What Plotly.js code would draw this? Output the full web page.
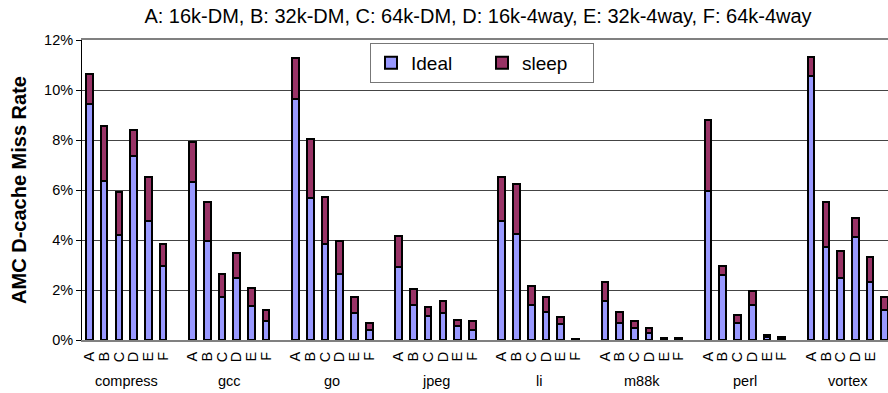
<!DOCTYPE html>
<html>
<head>
<meta charset="utf-8">
<script src="https://cdn.plot.ly/plotly-3.0.1.min.js"></script>
<style>
  html, body { margin: 0; padding: 0; background: #fff; }
  #chart { width: 888px; height: 393px; }
</style>
</head>
<body>
<div id="chart"></div>
<script>
// Benchmarks and cache configurations
const suites = ['compress', 'gcc', 'go', 'jpeg', 'li', 'm88k', 'perl', 'vortex'];
const configs = ['A', 'B', 'C', 'D', 'E', 'F'];
const chartTitle = 'A: 16k-DM, B: 32k-DM, C: 64k-DM, D: 16k-4way, E: 32k-4way, F: 64k-4way';

// Miss rate (%) of the ideal scheme, per suite, configs A..F
const idealCompress = [9.44, 6.37, 4.20, 7.36, 4.77, 2.96];
const idealGcc      = [6.33, 3.97, 1.73, 2.47, 1.36, 0.76];
const idealGo       = [9.64, 5.67, 3.83, 2.63, 1.09, 0.40];
const idealJpeg     = [2.93, 1.41, 0.97, 1.09, 0.55, 0.42];
const idealLi       = [4.76, 4.24, 1.40, 1.12, 0.63, 0.02];
const idealM88k     = [1.57, 0.70, 0.47, 0.27, 0.06, 0.05];
const idealPerl     = [5.96, 2.60, 0.68, 1.40, 0.12, 0.08];
const idealVortex   = [10.58, 3.72, 2.47, 4.12, 2.33, 1.21];

// Extra miss rate (%) added by sleep, stacked on top of ideal
const sleepCompress = [1.20, 2.19, 1.73, 1.04, 1.76, 0.87];
const sleepGcc      = [1.60, 1.56, 0.91, 1.02, 0.73, 0.44];
const sleepGo       = [1.66, 2.37, 1.90, 1.33, 0.62, 0.27];
const sleepJpeg     = [1.23, 0.64, 0.35, 0.48, 0.26, 0.33];
const sleepLi       = [1.77, 2.00, 0.77, 0.59, 0.28, 0.02];
const sleepM88k     = [0.76, 0.41, 0.29, 0.22, 0.04, 0.03];
const sleepPerl     = [2.84, 0.37, 0.31, 0.57, 0.07, 0.05];
const sleepVortex   = [0.75, 1.81, 1.09, 0.77, 1.00, 0.50];

const idealBySuite = [idealCompress, idealGcc, idealGo, idealJpeg, idealLi, idealM88k, idealPerl, idealVortex];
const sleepBySuite = [sleepCompress, sleepGcc, sleepGo, sleepJpeg, sleepLi, sleepM88k, sleepPerl, sleepVortex];

// Each suite takes 6 bar slots plus one empty slot as a separator
const slotsPerSuite = configs.length + 1;
const xPos = [], tickText = [], idealY = [], sleepY = [];
suites.forEach((s, g) => {
  configs.forEach((c, i) => {
    xPos.push(g * slotsPerSuite + i);
    tickText.push(c);
    idealY.push(idealBySuite[g][i]);
    sleepY.push(sleepBySuite[g][i]);
  });
});

const FONT = '"Liberation Sans", Arial, sans-serif';
const barLine = { color: '#000000', width: 2 };

const traces = [
  { type: 'bar', name: 'Ideal', x: xPos, y: idealY, width: 0.45,
    marker: { color: '#9999FF', line: barLine } },
  { type: 'bar', name: 'sleep', x: xPos, y: sleepY, width: 0.45,
    marker: { color: '#993366', line: barLine } }
];

const suiteLabels = suites.map((s, g) => ({
  text: s, x: g * slotsPerSuite + (configs.length - 1) / 2, xref: 'x',
  y: -0.137, yref: 'paper', yanchor: 'middle', xanchor: 'center',
  showarrow: false, font: { family: FONT, size: 14.5, color: '#000' }
}));

const layout = {
  width: 888, height: 393,
  margin: { l: 82, r: 0, t: 40, b: 53 },
  paper_bgcolor: '#ffffff', plot_bgcolor: '#ffffff',
  barmode: 'stack',
  font: { family: FONT, color: '#000' },
  title: {
    text: chartTitle, font: { family: FONT, size: 20, color: '#000' },
    x: 478 / 888, xref: 'container', xanchor: 'center',
    y: 1 - 16 / 393, yref: 'container', yanchor: 'middle'
  },
  xaxis: {
    range: [-0.5, 54.22], tickvals: xPos, ticktext: tickText,
    tickangle: -90, ticks: '', ticklabelstandoff: 4,
    showgrid: false, zeroline: false,
    showline: true, linecolor: '#808080', linewidth: 2, mirror: true,
    tickfont: { family: FONT, size: 14.5, color: '#000' }, fixedrange: true
  },
  yaxis: {
    range: [0, 12], dtick: 2, ticksuffix: '%',
    showgrid: true, gridcolor: '#444444', gridwidth: 1, zeroline: false,
    showline: true, linecolor: '#000', linewidth: 1,
    ticks: 'outside', ticklen: 5, tickcolor: '#000',
    tickfont: { family: FONT, size: 14.5, color: '#000' },
    title: { text: 'AMC D-cache Miss Rate', standoff: 12,
             font: { family: FONT, size: 20, color: '#000', weight: 'bold' } },
    automargin: false, fixedrange: true
  },
  legend: {
    orientation: 'h', traceorder: 'normal',
    x: (370 - 82) / 806, xanchor: 'left', y: (340 - 43) / 300, yanchor: 'top',
    bgcolor: '#ffffff', bordercolor: '#777777', borderwidth: 1,
    font: { family: FONT, size: 19, color: '#000' },
    entrywidth: 66, entrywidthmode: 'pixels'
  },
  annotations: suiteLabels,
  bargap: 0
};

Plotly.newPlot('chart', traces, layout, { displayModeBar: false, staticPlot: true });
</script>
</body>
</html>
